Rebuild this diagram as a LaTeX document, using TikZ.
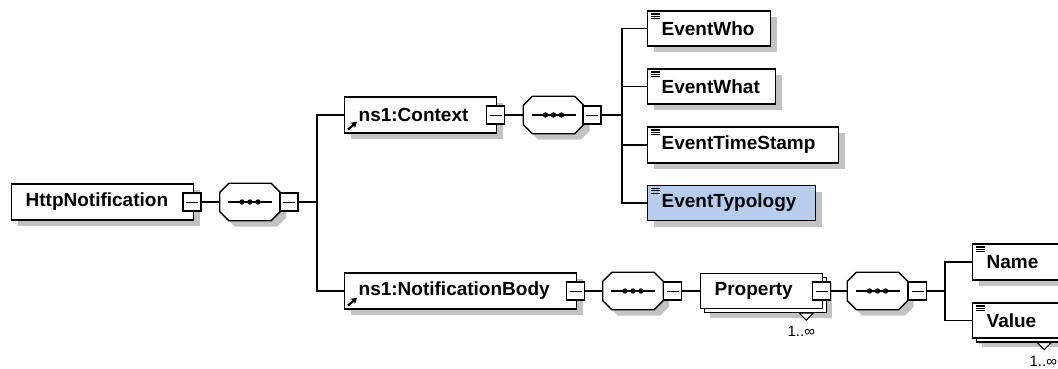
\documentclass[tikz,border=0pt]{standalone}
\usepackage{fontspec}
\setmainfont{Liberation Sans}
\usetikzlibrary{shadows,arrows.meta}
\definecolor{shd}{RGB}{195,195,195}
\definecolor{selblue}{RGB}{182,205,240}
\tikzset{
  conn/.style={line width=1.3pt, black},
  elbox/.style={draw, line width=1.3pt, fill=white, anchor=west, inner xsep=14pt, inner ysep=0pt,
    align=left, font=\bfseries\fontsize{19}{22}\selectfont,
    general shadow={fill=shd, shadow xshift=6pt, shadow yshift=-6pt}},
  leaf/.style={elbox, path picture={\foreach \k in {0,1,2}
      \draw[line width=1.1pt] ([xshift=3pt,yshift={-(3+2.4*\k)*1pt}]path picture bounding box.north west) -- ++(9,0);}},
  stacked/.style={draw, line width=1.3pt, fill=white, anchor=west, inner xsep=14pt, inner ysep=0pt,
    align=left, font=\bfseries\fontsize{19}{22}\selectfont,
    general shadow={fill=shd, shadow xshift=9pt, shadow yshift=-9pt},
    copy shadow={shadow xshift=4pt, shadow yshift=-4pt}},
  minusbox/.style={draw, line width=1.2pt, fill=white, minimum size=18pt, inner sep=0pt,
    path picture={\draw[line width=1pt] ([xshift=3pt]path picture bounding box.west) -- ([xshift=-3pt]path picture bounding box.east);}},
  seqnode/.style={rectangle, minimum width=60pt, minimum height=37pt, inner sep=0pt},
  octline/.style={draw, line width=1.3pt, fill=white},
  mult/.style={font=\fontsize{15}{17}\selectfont, inner sep=0pt},
  refarrow/.style={line width=2.2pt, -{Stealth[length=6pt,width=7pt]}},
}
% octagon outline round a node #1, shifted by #2
\newcommand\octpath[2]{([shift={(#2)},xshift=9pt]#1.north west) -- ([shift={(#2)},xshift=-9pt]#1.north east)
  -- ([shift={(#2)},yshift=-9pt]#1.north east) -- ([shift={(#2)},yshift=9pt]#1.south east)
  -- ([shift={(#2)},xshift=-9pt]#1.south east) -- ([shift={(#2)},xshift=9pt]#1.south west)
  -- ([shift={(#2)},yshift=9pt]#1.south west) -- ([shift={(#2)},yshift=-9pt]#1.north west) -- cycle}
\newcommand\seqdraw[1]{%
  \fill[shd] \octpath{#1}{6pt,-6pt};
  \path[octline] \octpath{#1}{0pt,0pt};
  \draw[line width=1.3pt] ([xshift=-22pt]#1.center) -- ([xshift=22pt]#1.center);
  \foreach \dx in {-8,0,8} \fill[black] ([xshift=\dx pt]#1.center) circle (2.7);}
\begin{document}
\begin{tikzpicture}[x=1pt,y=-1pt]
\useasboundingbox (0,0) rectangle (1058,369);
% root
\node[elbox, minimum height=36pt, text width=154pt] (http) at (11,202) {HttpNotification};
\node[minusbox] (httpm) at (192,202) {};
\node[seqnode] (seq1) at (250,202) {};
\seqdraw{seq1}
\node[minusbox] (seq1m) at (289,202) {};
\coordinate (j1) at (317,202);
% context
\node[elbox, minimum height=36pt, text width=124pt] (ctx) at (344,115) {ns1:Context};
\node[minusbox] (ctxm) at (495.5,115) {};
\node[seqnode] (seq2) at (553.5,115) {};
\seqdraw{seq2}
\node[minusbox] (seq2m) at (592,115) {};
\coordinate (j2) at (622,115);
\node[leaf, minimum height=35pt, text width=95pt] (who) at (647,28.5) {EventWho};
\node[leaf, minimum height=35pt, text width=100pt] (what) at (647,86.5) {EventWhat};
\node[leaf, minimum height=36pt, text width=163pt] (ts) at (647,145) {EventTimeStamp};
\node[leaf, fill=selblue, minimum height=35pt, text width=140pt] (typ) at (647,203) {EventTypology};
% body
\node[elbox, minimum height=36pt, text width=204pt] (body) at (344,291) {ns1:NotificationBody};
\node[minusbox] (bodym) at (575.5,291) {};
\node[seqnode] (seq3) at (633,291) {};
\seqdraw{seq3}
\node[minusbox] (seq3m) at (672.5,291) {};
\node[stacked, minimum height=35pt, text width=94pt] (prop) at (700,291) {Property};
\node[minusbox] (propm) at (821.5,291) {};
\draw[line width=1.1pt, fill=white] ([xshift=-24pt,yshift=-4pt]prop.south east) -- ++(14,0) -- ++(-7,7) -- cycle;
\node[mult] (propmult) at ([xshift=-22pt,yshift=-22pt]prop.south east) {1..∞};
\node[seqnode] (seq4) at (877.5,291) {};
\seqdraw{seq4}
\node[minusbox] (seq4m) at (917.5,291) {};
\coordinate (j3) at (945,291);
\node[leaf, minimum height=36pt, text width=74pt] (name) at (972,262) {Name};
\node[leaf, stacked, minimum height=35pt, text width=74pt] (value) at (972,320.5) {Value};
\draw[line width=1.1pt, fill=white] ([xshift=-38pt,yshift=-4pt]value.south east) -- ++(14,0) -- ++(-7,7) -- cycle;
\node[mult] (valmult) at ([xshift=-32pt,yshift=-23pt]value.south east) {1..∞};
% reference arrows
\draw[refarrow] ([xshift=4pt,yshift=4pt]ctx.south west) -- ++(9,-8);
\draw[refarrow] ([xshift=4pt,yshift=4pt]body.south west) -- ++(9,-8);
% connectors
\draw[conn] (httpm) -- (seq1);
\draw[conn] (seq1m) -- (j1);
\draw[conn] (j1) |- (ctx.west);
\draw[conn] (j1) |- (body.west);
\draw[conn] (ctxm) -- (seq2);
\draw[conn] (seq2m) -- (j2);
\draw[conn] (j2) |- (who.west);
\draw[conn] (j2) |- (what.west);
\draw[conn] (j2) |- (ts.west);
\draw[conn] (j2) |- (typ.west);
\draw[conn] (bodym) -- (seq3);
\draw[conn] (seq3m) -- (prop);
\draw[conn] (propm) -- (seq4);
\draw[conn] (seq4m) -- (j3);
\draw[conn] (j3) |- (name.west);
\draw[conn] (j3) |- (value.west);
\end{tikzpicture}
\end{document}
